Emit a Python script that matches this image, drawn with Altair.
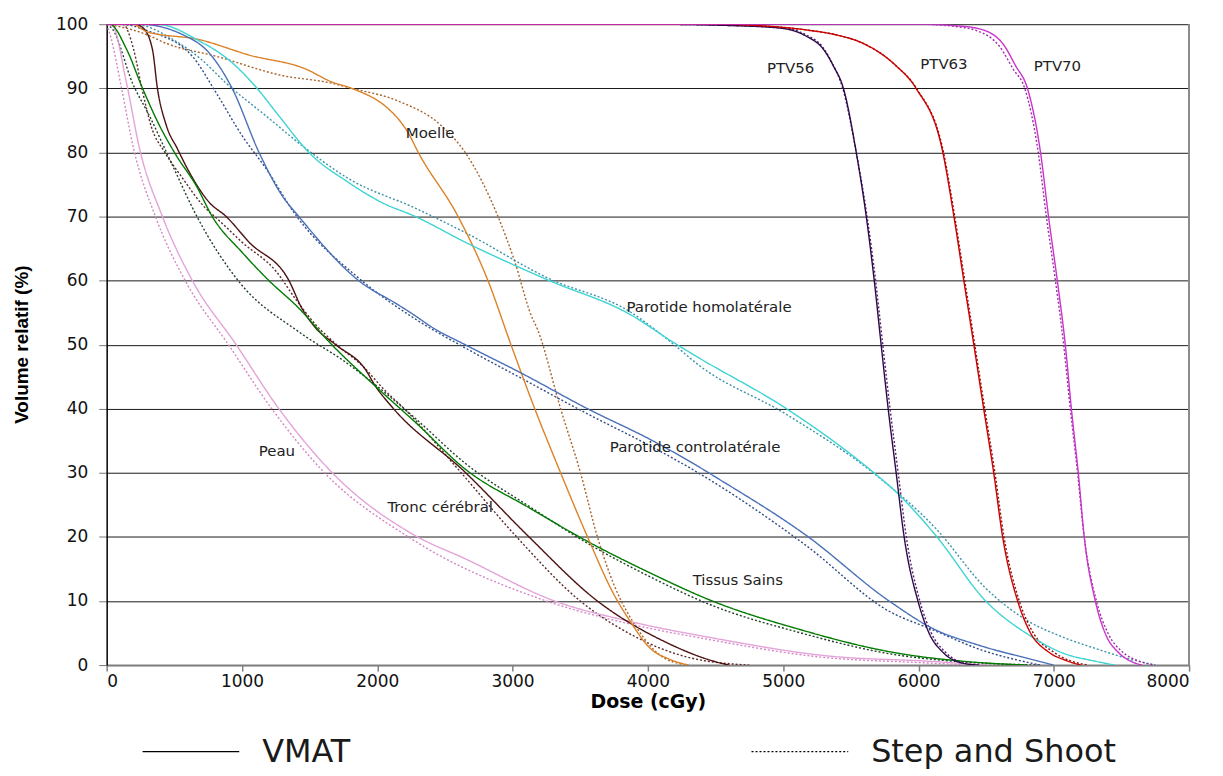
import altair as alt
import pandas as pd

# ------------------------------------------------------------------ data
organs = ["Peau", "Tronc cérébral", "Tissus Sains", "Moelle",
          "Parotide controlatérale", "Parotide homolatérale",
          "PTV56", "PTV63", "PTV70"]
methods = ["Step and Shoot", "VMAT"]

solid_colors = ["#E3A3D9", "#4D1010", "#007A00", "#DB8229", "#4A70B8",
                "#3DD3D3", "#2C0A4A", "#CC0000", "#CC33CC"]
dotted_colors = ["#D487C6", "#5C2A2A", "#23402A", "#A8642C", "#2F4C85",
                 "#3B93AA", "#5A2070", "#8A0F0F", "#9A2AA8"]

# Peau
peau_vmat_dose = [0, 44, 147, 243, 412, 633, 957, 1273, 1663, 2281, 2649, 3311, 3870, 4488, 5342, 6078, 6500]
peau_vmat_vol = [100, 99.7, 90.8, 80.6, 70, 60, 50, 40, 30.1, 20.2, 16.6, 10, 6.8, 4.2, 1.4, 0.6, 0]
peau_sas_dose = [0, 30, 110, 200, 360, 580, 900, 1220, 1610, 2230, 3250, 3850, 4450, 5300, 6000, 6400]
peau_sas_vol = [100, 98, 90, 80.5, 70, 60, 50, 40, 30, 20, 10, 6.5, 4, 1.2, 0.4, 0]

# Tronc cérébral
tronc_vmat_dose = [0, 200, 265, 338, 375, 441, 522, 611, 758, 883, 1052, 1347, 1442, 1545, 1692, 1913, 1987, 2104, 2649, 3112, 3627, 4120, 4488, 4600]
tronc_vmat_vol = [100, 100, 99.5, 96.1, 90, 84.2, 80.6, 76.9, 72.2, 70, 66, 60, 55.7, 52.6, 50, 46.1, 43.5, 40.4, 30.1, 20.2, 10, 3.7, 0.6, 0]
tronc_sas_dose = [0, 120, 200, 260, 330, 430, 560, 700, 850, 1000, 1250, 1400, 1550, 1700, 1900, 2050, 2200, 2600, 3030, 3500, 3900, 4300, 4750]
tronc_sas_vol = [100, 100, 96, 90, 84, 80, 76, 72, 69, 66, 61.5, 57, 53, 50, 46.5, 43, 40, 30.5, 20, 10, 4.5, 1.2, 0]

# Tissus Sains
tissus_vmat_dose = [0, 22, 147, 265, 390, 515, 662, 780, 1001, 1199, 1420, 1641, 1987, 2281, 2649, 3135, 3554, 3995, 4488, 5099, 5835, 6328, 6800]
tissus_vmat_vol = [100, 100, 96.1, 90, 84.2, 79.5, 74.8, 70, 64.4, 60, 55.7, 50.5, 43.5, 37.9, 30.6, 24.4, 19.3, 14.6, 9.9, 5.7, 1.9, 0.6, 0]
tissus_sas_dose = [0, 44, 191, 316, 486, 662, 979, 1420, 1750, 2000, 2281, 2649, 3135, 3554, 3995, 4488, 5099, 5835, 6328, 6900]
tissus_sas_vol = [100, 99.2, 90.8, 85.7, 78, 70.2, 59.8, 52, 47.5, 43.5, 38.5, 31.5, 24.6, 19, 14, 9.2, 5.2, 1.6, 0.5, 0]

# Moelle
moelle_vmat_dose = [0, 190, 300, 684, 1051, 1472, 1663, 1810, 2082, 2156, 2230, 2303, 2597, 2818, 2988, 3164, 3355, 3554, 3752, 3870, 4018, 4150, 4300]
moelle_vmat_vol = [100, 100, 98.8, 97.6, 95.2, 93, 91, 90, 86.8, 85.2, 83, 80, 70, 60, 50, 40, 30, 20, 10.9, 6.8, 2.6, 1, 0]
moelle_sas_dose = [0, 100, 294, 441, 809, 1295, 1663, 1810, 2156, 2472, 2649, 2892, 3017, 3135, 3186, 3355, 3502, 3627, 3752, 3922, 4120, 4300]
moelle_sas_vol = [100, 99.6, 98.4, 97, 95, 92, 90.8, 90, 88, 84.2, 80, 70, 62.9, 54.7, 52.3, 40, 30, 20, 12.4, 5.7, 1.1, 0]

# Parotide controlatérale
pcontro_vmat_dose = [0, 243, 559, 758, 927, 1126, 1295, 1420, 1862, 2156, 2281, 2398, 2649, 3061, 3554, 4018, 4364, 4488, 5173, 5783, 6107, 6446, 6816, 7000]
pcontro_vmat_vol = [100, 100, 98.4, 95.5, 90, 80, 73.3, 70, 60, 56.2, 54.5, 52.8, 50, 45.6, 40, 35.2, 31.1, 29.5, 20.2, 10, 5.7, 3.1, 1, 0]
pcontro_sas_dose = [0, 100, 300, 633, 809, 1001, 1177, 1398, 1862, 2281, 2649, 3061, 3554, 4018, 4364, 5173, 5783, 6107, 6446, 6900]
pcontro_sas_vol = [100, 100, 99, 95, 89.3, 82.6, 77.5, 70.2, 60.4, 54, 49.5, 44.8, 39.2, 34.2, 30.1, 18.6, 8.4, 5.5, 2.5, 0]

# Parotide homolatérale
phomo_vmat_dose = [0, 368, 684, 927, 1111, 1273, 1494, 1788, 2031, 2281, 2649, 3260, 3870, 4193, 4364, 5025, 5665, 5835, 6129, 6497, 6816, 7064, 7307, 7450]
phomo_vmat_vol = [100, 100, 97.4, 94, 90, 85.7, 80, 75.3, 72.2, 70, 66, 60.1, 54.7, 50.3, 48.1, 40, 30.1, 27, 20.2, 10, 4.7, 1.9, 0.6, 0]
phomo_sas_dose = [0, 200, 500, 700, 883, 1177, 1472, 1788, 2281, 2649, 3260, 3870, 4193, 4364, 5025, 5665, 6129, 6497, 6816, 7050, 7307, 7550, 7750]
phomo_sas_vol = [100, 100, 97.5, 94.5, 90.8, 85.7, 80.6, 75.9, 71.3, 67.5, 60.4, 55.1, 50, 47, 39.1, 30, 21.3, 12, 6.8, 4.5, 2.6, 1, 0]

# PTV56
ptv56_vmat_dose = [0, 4000, 4600, 4974, 5173, 5297, 5371, 5445, 5540, 5614, 5673, 5724, 5776, 5835, 5894, 5996, 6078, 6180, 6328, 6450]
ptv56_vmat_vol = [100, 100, 99.8, 99.4, 98.1, 96.1, 93.5, 90, 80, 70, 60, 50, 40, 30, 20, 10, 5, 2, 0.3, 0]
ptv56_sas_dose = [0, 4000, 4600, 4974, 5173, 5297, 5365, 5440, 5540, 5620, 5683, 5736, 5790, 5850, 5910, 6010, 6095, 6200, 6350, 6500]
ptv56_sas_vol = [100, 100, 99.8, 99.5, 98.3, 96.3, 93.8, 90, 80, 70, 60, 50, 40, 30, 20, 10, 5, 2, 0.3, 0]

# PTV63
ptv63_vmat_dose = [0, 4500, 4800, 5173, 5400, 5592, 5835, 5982, 6180, 6262, 6335, 6409, 6482, 6556, 6622, 6733, 6816, 6964, 7080, 7200]
ptv63_vmat_vol = [100, 100, 99.8, 99.1, 98.3, 97, 93.5, 90, 80, 70, 60, 50, 40, 30, 20, 10, 5.5, 2, 0.8, 0]
ptv63_sas_dose = [0, 4500, 4800, 5173, 5400, 5592, 5835, 5985, 6185, 6268, 6342, 6416, 6490, 6565, 6632, 6745, 6835, 7000, 7120, 7250]
ptv63_sas_vol = [100, 100, 99.8, 99.1, 98.3, 97, 93.5, 90, 80, 70, 60, 50, 40, 30, 20, 10, 5.5, 2, 0.7, 0]

# PTV70
ptv70_vmat_dose = [0, 6000, 6250, 6446, 6622, 6718, 6805, 6902, 6961, 7026, 7085, 7130, 7181, 7225, 7307, 7379, 7476, 7560, 7652]
ptv70_vmat_vol = [100, 100, 99.8, 99.3, 97, 93.5, 90, 80, 70, 60, 50, 40, 30, 20, 10, 5, 2, 0.7, 0]
ptv70_sas_dose = [0, 6000, 6250, 6430, 6600, 6700, 6785, 6885, 6945, 7012, 7073, 7122, 7176, 7225, 7315, 7400, 7510, 7620, 7750]
ptv70_sas_vol = [100, 100, 99.7, 99, 96.5, 93, 90, 80, 70, 60, 50, 40, 30, 20, 10, 5, 2, 0.7, 0]

# curve labels
label_text = ["PTV56", "PTV63", "PTV70", "Moelle", "Parotide homolatérale",
              "Parotide controlatérale", "Tissus Sains", "Tronc cérébral", "Peau"]
label_dose = [5055, 6188, 7027, 2391, 4452, 4349, 4665, 2465, 1258]
label_vol = [93.2, 93.8, 93.5, 83.0, 55.8, 34.1, 13.2, 24.6, 33.4]

x_ticks = [0, 1000, 2000, 3000, 4000, 5000, 6000, 7000, 8000]
y_ticks = [0, 10, 20, 30, 40, 50, 60, 70, 80, 90, 100]

# ------------------------------------------------------------------ table
curves = {
    "Peau": ((peau_vmat_dose, peau_vmat_vol), (peau_sas_dose, peau_sas_vol)),
    "Tronc cérébral": ((tronc_vmat_dose, tronc_vmat_vol), (tronc_sas_dose, tronc_sas_vol)),
    "Tissus Sains": ((tissus_vmat_dose, tissus_vmat_vol), (tissus_sas_dose, tissus_sas_vol)),
    "Moelle": ((moelle_vmat_dose, moelle_vmat_vol), (moelle_sas_dose, moelle_sas_vol)),
    "Parotide controlatérale": ((pcontro_vmat_dose, pcontro_vmat_vol), (pcontro_sas_dose, pcontro_sas_vol)),
    "Parotide homolatérale": ((phomo_vmat_dose, phomo_vmat_vol), (phomo_sas_dose, phomo_sas_vol)),
    "PTV56": ((ptv56_vmat_dose, ptv56_vmat_vol), (ptv56_sas_dose, ptv56_sas_vol)),
    "PTV63": ((ptv63_vmat_dose, ptv63_vmat_vol), (ptv63_sas_dose, ptv63_sas_vol)),
    "PTV70": ((ptv70_vmat_dose, ptv70_vmat_vol), (ptv70_sas_dose, ptv70_sas_vol)),
}

rows = []
series_keys, series_colors, series_widths = [], [], []
for method in methods:
    for i, organ in enumerate(organs):
        vm, sas = curves[organ]
        d, v = vm if method == "VMAT" else sas
        key = f"{organ} | {method}"
        series_keys.append(key)
        if method == "VMAT":
            series_colors.append(solid_colors[i])
            series_widths.append(2.4 if organ == "Parotide homolatérale" else 1.6)
        else:
            series_colors.append(dotted_colors[i])
            series_widths.append(1.4)
        for dd, vv in zip(d, v):
            rows.append({"series": key, "organ": organ, "method": method,
                         "dose": dd, "vol": vv})
df = pd.DataFrame(rows)
labels_df = pd.DataFrame({"label": label_text, "dose": label_dose, "vol": label_vol})

# ------------------------------------------------------------------ chart
x_scale = alt.Scale(domain=[0, 8000], nice=False, zero=True)
y_scale = alt.Scale(domain=[0, 100], nice=False)

x_axis = alt.Axis(values=x_ticks, format="d", title="Dose (cGy)",
                  labelFont="DejaVu Sans", labelFontSize=17, labelColor="#111",
                  tickColor="#808080", tickSize=6, tickWidth=1.5,
                  domainColor="#808080", domainWidth=2, grid=False,
                  labelPadding=2, titleFont="DejaVu Sans", titleFontSize=19,
                  titleFontWeight="bold", titleColor="#000", titlePadding=4)
y_axis = alt.Axis(values=y_ticks, format="d", title="Volume relatif (%)",
                  labelFont="DejaVu Sans", labelFontSize=17, labelColor="#111",
                  tickColor="#777", tickSize=8, tickWidth=1,
                  domainColor="#000", domainWidth=1.5,
                  grid=True, gridColor="#1a1a1a", gridWidth=1, gridOpacity=1,
                  labelPadding=11,
                  titleFont="Liberation Sans Narrow, Liberation Sans", titleFontSize=19,
                  titleFontWeight="bold", titleColor="#000",
                  titleX=-85, titleY=321, titleAngle=270, titleBaseline="middle",
                  titleAlign="center")

lines = alt.Chart(df).mark_line(interpolate="monotone", clip=True).encode(
    x=alt.X("dose:Q", scale=x_scale, axis=x_axis),
    y=alt.Y("vol:Q", scale=y_scale, axis=y_axis),
    color=alt.Color("series:N", scale=alt.Scale(domain=series_keys, range=series_colors), legend=None),
    strokeWidth=alt.StrokeWidth("series:N", scale=alt.Scale(domain=series_keys, range=series_widths), legend=None),
    strokeDash=alt.StrokeDash(
        "method:N",
        scale=alt.Scale(domain=["VMAT", "Step and Shoot"], range=[[1, 0], [2, 2]]),
        legend=alt.Legend(orient="none", legendX=35, legendY=680, direction="horizontal",
                          title=None, symbolType="stroke", symbolSize=9409,
                          symbolStrokeWidth=1.3, symbolStrokeColor="#000",
                          labelFont="DejaVu Sans", labelFontSize=32, labelColor="#1a1a1a",
                          labelOffset=22, columnPadding=399, padding=0, labelLimit=500)),
    detail="series:N",
    order=alt.Order("dose:Q"),
)

border = alt.Chart(labels_df).mark_rule(color="#8c8c8c", strokeWidth=1.5).encode(
    x=alt.datum(8000, scale=x_scale)
)

texts = alt.Chart(labels_df).mark_text(font="DejaVu Sans", fontSize=15, color="#222",
                                       align="center", baseline="middle").encode(
    x=alt.X("dose:Q", scale=x_scale),
    y=alt.Y("vol:Q", scale=y_scale),
    text="label:N",
)

chart = alt.layer(border, lines, texts).properties(
    width=1086, height=643,
    autosize=alt.AutoSizeParams(type="none"),
    padding={"left": 99, "top": 15, "right": 26, "bottom": 110},
    background="white",
).configure_view(stroke=None)

chart.save("out.html", embed_options={"renderer": "svg", "actions": False})
